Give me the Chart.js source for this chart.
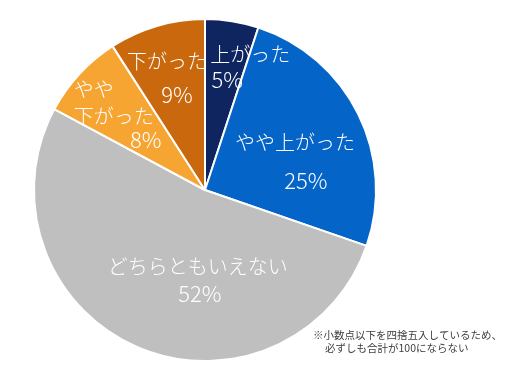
<!DOCTYPE html>
<html>
<head>
<meta charset="utf-8">
<script src="https://cdn.jsdelivr.net/npm/chart.js@4"></script>
<style>
  html, body { margin: 0; padding: 0; background: #ffffff; }
  #wrap { width: 527px; height: 372px; position: relative; }
</style>
</head>
<body>
<div id="wrap"><canvas id="c" width="527" height="372"></canvas></div>
<script>
// ---- data ----
const categories = ["上がった", "やや上がった", "どちらともいえない", "やや下がった", "下がった"];
const values = [5, 25, 52, 8, 9];
const labelLines = [
  ["上がった", "5%"],
  ["やや上がった", "25%"],
  ["どちらともいえない", "52%"],
  ["やや", "下がった", "8%"],
  ["下がった", "9%"]
];
const footnoteLines = ["※小数点以下を四捨五入しているため、", "必ずしも合計が100にならない"];

// ---- styles / layout ----
const sliceColors = ["#0E2560", "#0564C8", "#BFBFBF", "#F6A532", "#C9680C"];
// per-line offsets relative to anchor on each arc's mid-angle at 0.6 * radius
const lineOffsets = [
  [[29, -34], [6, -9]],
  [[-2, -2], [9, 36]],
  [[34, -18], [36, 10]],
  [[-36, -31], [-16, -4], [16, 19]],
  [[-9, -30], [1, 3]]
];
const kanaFont = '300 20px "Noto Sans CJK JP", "Noto Sans", sans-serif';
const numFont = '300 22px "Noto Sans CJK JP", "Noto Sans", sans-serif';

const sliceLabels = {
  id: 'sliceLabels',
  afterDatasetsDraw(chart) {
    const ctx = chart.ctx;
    const meta = chart.getDatasetMeta(0);
    ctx.save();
    ctx.fillStyle = '#ffffff';
    ctx.textAlign = 'center';
    ctx.textBaseline = 'middle';
    meta.data.forEach((arc, i) => {
      const p = arc.getProps(['x', 'y', 'startAngle', 'endAngle', 'outerRadius'], true);
      const mid = (p.startAngle + p.endAngle) / 2;
      const r = p.outerRadius * 0.6;
      const ax = p.x + Math.cos(mid) * r;
      const ay = p.y + Math.sin(mid) * r;
      labelLines[i].forEach((line, j) => {
        const off = lineOffsets[i][j];
        ctx.font = /%$/.test(line) ? numFont : kanaFont;
        ctx.fillText(line, ax + off[0], ay + off[1]);
      });
    });
    // footnote
    ctx.fillStyle = '#404040';
    ctx.font = '10.5px "Noto Sans CJK JP", "Noto Sans", sans-serif';
    ctx.textAlign = 'left';
    ctx.fillText(footnoteLines[0], 313, 335);
    ctx.fillText(footnoteLines[1], 325, 348);
    ctx.restore();
  }
};

new Chart(document.getElementById('c'), {
  type: 'pie',
  data: {
    labels: categories,
    datasets: [{
      data: values,
      backgroundColor: sliceColors,
      borderColor: '#ffffff',
      borderWidth: 2
    }]
  },
  options: {
    responsive: false,
    animation: false,
    layout: { padding: { left: 33, right: 150, top: 18, bottom: 10 } },
    plugins: {
      legend: { display: false },
      tooltip: { enabled: false }
    }
  },
  plugins: [sliceLabels]
});
</script>
</body>
</html>
